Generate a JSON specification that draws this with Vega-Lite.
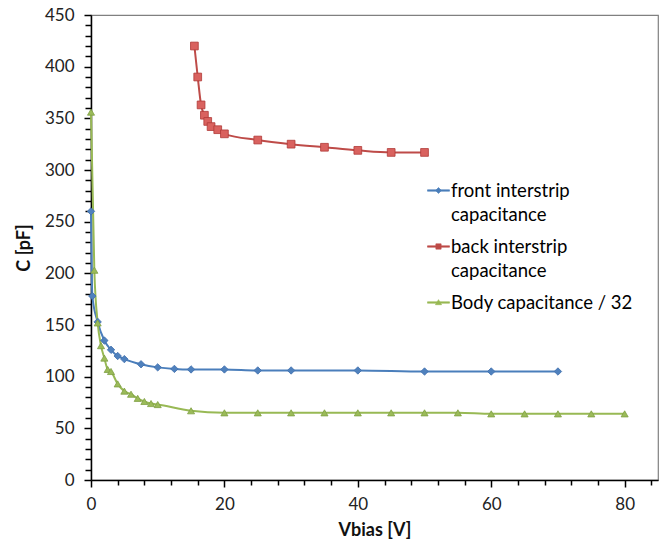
{
  "$schema": "https://vega.github.io/schema/vega-lite/v6.json",
  "width": 567,
  "height": 465,
  "autosize": {"type": "none"},
  "padding": {"left": 91, "top": 15, "right": 6, "bottom": 59},
  "background": "white",
  "config": {
    "font": "Lato",
    "view": {"stroke": "#808080", "strokeWidth": 1.2},
    "axis": {"labelFont": "Lato", "titleFont": "Lato", "labelFontSize": 17, "labelColor": "#222", "titleFontSize": 18, "titleColor": "#111", "titleFontWeight": "bold", "domainColor": "#000", "domainWidth": 1.5, "tickColor": "#000", "tickWidth": 1.5, "grid": false}
  },
  "data": {"values": [
    {"s": "front interstrip capacitance", "v": 0, "c": 260},
    {"s": "front interstrip capacitance", "v": 0.2, "c": 178},
    {"s": "front interstrip capacitance", "v": 1, "c": 153},
    {"s": "front interstrip capacitance", "v": 2, "c": 135},
    {"s": "front interstrip capacitance", "v": 3, "c": 126},
    {"s": "front interstrip capacitance", "v": 4, "c": 120},
    {"s": "front interstrip capacitance", "v": 5, "c": 117},
    {"s": "front interstrip capacitance", "v": 7.5, "c": 112},
    {"s": "front interstrip capacitance", "v": 10, "c": 109},
    {"s": "front interstrip capacitance", "v": 12.5, "c": 107.5},
    {"s": "front interstrip capacitance", "v": 15, "c": 107},
    {"s": "front interstrip capacitance", "v": 20, "c": 107},
    {"s": "front interstrip capacitance", "v": 25, "c": 106},
    {"s": "front interstrip capacitance", "v": 30, "c": 106},
    {"s": "front interstrip capacitance", "v": 40, "c": 106},
    {"s": "front interstrip capacitance", "v": 50, "c": 105},
    {"s": "front interstrip capacitance", "v": 60, "c": 105},
    {"s": "front interstrip capacitance", "v": 70, "c": 105},
    {"s": "back interstrip capacitance", "v": 15.5, "c": 420},
    {"s": "back interstrip capacitance", "v": 16, "c": 390},
    {"s": "back interstrip capacitance", "v": 16.5, "c": 363},
    {"s": "back interstrip capacitance", "v": 17, "c": 353},
    {"s": "back interstrip capacitance", "v": 17.5, "c": 347},
    {"s": "back interstrip capacitance", "v": 18, "c": 342},
    {"s": "back interstrip capacitance", "v": 19, "c": 339},
    {"s": "back interstrip capacitance", "v": 20, "c": 335},
    {"s": "back interstrip capacitance", "v": 25, "c": 329},
    {"s": "back interstrip capacitance", "v": 30, "c": 325},
    {"s": "back interstrip capacitance", "v": 35, "c": 322},
    {"s": "back interstrip capacitance", "v": 40, "c": 319},
    {"s": "back interstrip capacitance", "v": 45, "c": 317},
    {"s": "back interstrip capacitance", "v": 50, "c": 317},
    {"s": "Body capacitance / 32", "v": 0, "c": 356},
    {"s": "Body capacitance / 32", "v": 0.5, "c": 203},
    {"s": "Body capacitance / 32", "v": 1, "c": 152},
    {"s": "Body capacitance / 32", "v": 1.5, "c": 130},
    {"s": "Body capacitance / 32", "v": 2, "c": 118},
    {"s": "Body capacitance / 32", "v": 2.5, "c": 107},
    {"s": "Body capacitance / 32", "v": 3, "c": 105},
    {"s": "Body capacitance / 32", "v": 4, "c": 93},
    {"s": "Body capacitance / 32", "v": 5, "c": 86},
    {"s": "Body capacitance / 32", "v": 6, "c": 83},
    {"s": "Body capacitance / 32", "v": 7, "c": 79},
    {"s": "Body capacitance / 32", "v": 8, "c": 76},
    {"s": "Body capacitance / 32", "v": 9, "c": 74},
    {"s": "Body capacitance / 32", "v": 10, "c": 73},
    {"s": "Body capacitance / 32", "v": 15, "c": 67},
    {"s": "Body capacitance / 32", "v": 20, "c": 65},
    {"s": "Body capacitance / 32", "v": 25, "c": 65},
    {"s": "Body capacitance / 32", "v": 30, "c": 65},
    {"s": "Body capacitance / 32", "v": 35, "c": 65},
    {"s": "Body capacitance / 32", "v": 40, "c": 65},
    {"s": "Body capacitance / 32", "v": 45, "c": 65},
    {"s": "Body capacitance / 32", "v": 50, "c": 65},
    {"s": "Body capacitance / 32", "v": 55, "c": 65},
    {"s": "Body capacitance / 32", "v": 60, "c": 64},
    {"s": "Body capacitance / 32", "v": 65, "c": 64},
    {"s": "Body capacitance / 32", "v": 70, "c": 64},
    {"s": "Body capacitance / 32", "v": 75, "c": 64},
    {"s": "Body capacitance / 32", "v": 80, "c": 64}
  ]},
  "encoding": {
    "x": {"field": "v", "type": "quantitative", "scale": {"domain": [0, 85], "nice": false, "zero": false},
      "axis": {"title": "Vbias [V]", "values": [0,4,8,12,16,20,24,28,32,36,40,44,48,52,56,60,64,68,72,76,80,84],
        "labelExpr": "datum.value % 20 === 0 ? datum.label : ''",
        "tickSize": {"condition": {"test": "datum.value % 20 === 0", "value": 7}, "value": 5},
        "labelPadding": 9, "titlePadding": 9, "labelFlush": false}},
    "y": {"field": "c", "type": "quantitative", "scale": {"domain": [0, 450], "nice": false},
      "axis": {"title": "C [pF]", "values": [0,10,20,30,40,50,60,70,80,90,100,110,120,130,140,150,160,170,180,190,200,210,220,230,240,250,260,270,280,290,300,310,320,330,340,350,360,370,380,390,400,410,420,430,440,450],
        "labelExpr": "datum.value % 50 === 0 ? datum.label : ''",
        "tickSize": {"condition": {"test": "datum.value % 50 === 0", "value": 7}, "value": 6},
        "labelPadding": 10, "titlePadding": 11, "labelFlush": false}}
  },
  "layer": [
    {
      "mark": {"type": "line", "interpolate": "monotone", "strokeWidth": 2},
      "encoding": {
        "color": {"field": "s", "type": "nominal",
          "scale": {"domain": ["front interstrip capacitance", "back interstrip capacitance", "Body capacitance / 32"], "range": ["#4A7EBB", "#BE4B48", "#98B954"]},
          "legend": {"title": null, "orient": "none", "legendX": 336, "legendY": 164,
            "labelFont": "Lato", "labelFontSize": 18.5, "labelColor": "#000", "labelLimit": 300,
            "labelExpr": "datum.label == 'front interstrip capacitance' ? ['front interstrip', 'capacitance'] : datum.label == 'back interstrip capacitance' ? ['back interstrip', 'capacitance'] : datum.label",
            "labelBaseline": "alphabetic", "symbolSize": 484, "symbolStrokeWidth": 1.6, "rowPadding": 11, "labelOffset": 1,
            "symbolType": "M-1,0H1",
            "encoding": {
              "symbols": {
                "shape": {"value": {"expr": "datum.value == 'front interstrip capacitance' ? 'M-1,-0.065H1V0.065H-1ZM0,-0.27L0.27,0L0,0.27L-0.27,0Z' : datum.value == 'back interstrip capacitance' ? 'M-1,-0.065H1V0.065H-1ZM-0.24,-0.24H0.24V0.24H-0.24Z' : 'M-1,-0.065H1V0.065H-1ZM0,-0.26L0.28,0.2H-0.28Z'"}},
                "fill": {"value": {"expr": "scale('color', datum.value)"}},
                "stroke": {"value": {"expr": "scale('color', datum.value)"}},
                "strokeWidth": {"value": 0.6}
              },
              "labels": {"lineHeight": {"value": 24}, "dy": {"value": 6}}
            }
          }}
      }
    },
    {
      "transform": [{"filter": "datum.s == 'front interstrip capacitance'"}],
      "mark": {"type": "point", "shape": "diamond", "filled": true, "opacity": 1, "size": 55, "fill": "#4F81BD", "stroke": "#3F6FAD", "strokeWidth": 0.8}
    },
    {
      "transform": [{"filter": "datum.s == 'back interstrip capacitance'"}],
      "mark": {"type": "point", "shape": "square", "filled": true, "opacity": 1, "size": 60, "fill": "#D9625F", "stroke": "#B03A37", "strokeWidth": 0.8}
    },
    {
      "transform": [{"filter": "datum.s == 'Body capacitance / 32'"}],
      "mark": {"type": "point", "shape": "triangle-up", "filled": true, "opacity": 1, "size": 50, "fill": "#9BBB59", "stroke": "#7FA044", "strokeWidth": 0.8}
    }
  ]
}
